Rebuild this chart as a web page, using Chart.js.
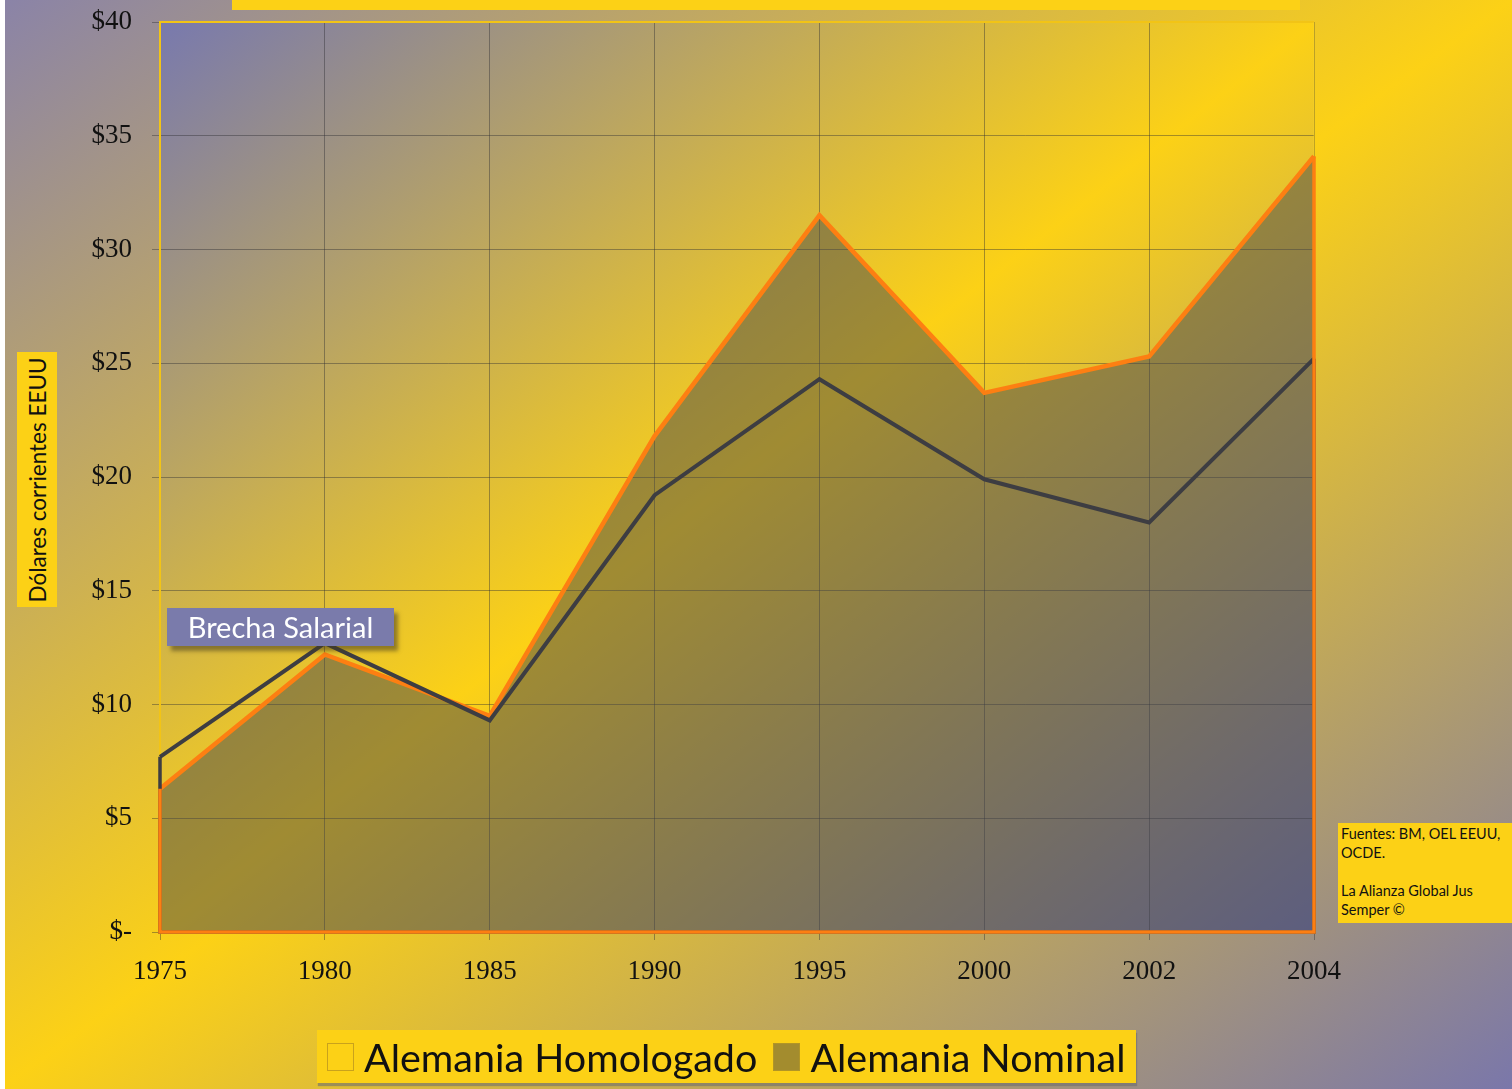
<!DOCTYPE html>
<html><head><meta charset="utf-8">
<script src="https://cdn.jsdelivr.net/npm/chart.js@4.4.1/dist/chart.umd.min.js"></script>
<style>
html,body{margin:0;padding:0;}
body{width:1512px;height:1089px;overflow:hidden;position:relative;
 background:linear-gradient(to bottom right, rgb(138,131,168) 0%, #fcd116 50%, rgb(122,119,170) 100%);
 font-family:Lato, "Open Sans", sans-serif;}
#edge{position:absolute;left:0;top:0;width:5px;height:1089px;background:#fff;}
#topbar{position:absolute;left:232px;top:0;width:1068px;height:10px;background:#fcd116;}
#c{position:absolute;left:0;top:0;}
#ytitle{position:absolute;left:17px;top:352px;width:40px;height:255px;background:#fcd116;}
#ytitle span{position:absolute;left:50%;top:50%;transform:translate(-50%,-50%) rotate(-90deg);white-space:nowrap;font-size:22.5px;color:#111;}
#gap{position:absolute;left:167px;top:608px;width:227px;height:38px;background:#7a7bab;color:#fff;font-size:29px;line-height:38px;text-align:center;box-shadow:4px 5px 4px rgba(70,60,30,0.55);}
#src{position:absolute;left:1338px;top:823px;width:174px;height:100px;background:#fcd116;font-size:14.5px;line-height:19px;padding:1px 0 0 3px;box-sizing:border-box;color:#111;}
#legend{position:absolute;left:317px;top:1030px;width:819px;height:53px;background:#fcd116;box-shadow:1px 3px 1px rgba(110,110,110,0.6);display:flex;align-items:center;box-sizing:border-box;padding-left:10px;font-size:39.5px;color:#111;white-space:nowrap;}
#legend .sw{width:27px;height:28px;box-sizing:border-box;margin-right:10px;flex:none;}
#legend .item{display:flex;align-items:center;margin-right:16px;}
</style></head>
<body>
<div id="edge"></div>
<div id="topbar"></div>
<canvas id="c" width="1512" height="1089"></canvas>
<div id="ytitle"><span>Dólares corrientes EEUU</span></div>
<div id="gap">Brecha Salarial</div>
<div id="src">Fuentes: BM, OEL EEUU,<br>OCDE.<br><br>La Alianza Global Jus<br>Semper ©</div>
<div id="legend"></div>
<script>
const years = ['1975','1980','1985','1990','1995','2000','2002','2004'];
const homologado = [7.7, 12.7, 9.3, 19.2, 24.3, 19.9, 18.0, 25.2];
const nominal = [6.3, 12.2, 9.5, 21.8, 31.5, 23.7, 25.3, 34.1];
const yTicks = [0, 5, 10, 15, 20, 25, 30, 35, 40];
const yTickLabels = ['$-', '$5', '$10', '$15', '$20', '$25', '$30', '$35', '$40'];
const seriesNames = ['Alemania Homologado', 'Alemania Nominal'];

const orange = '#fd7f12';
const dark = '#3d3d42';
const fillNominal = 'rgba(68,70,80,0.5)';
const gridColor = 'rgba(45,45,50,0.42)';

const plotBg = {
  id: 'plotBg',
  beforeDraw(chart) {
    const {ctx, chartArea: a} = chart;
    const w = a.right - a.left, h = a.bottom - a.top;
    const d = Math.hypot(w, h), L = 2 * w * h / d;
    const g = ctx.createLinearGradient(a.left, a.top, a.left + h / d * L, a.top + w / d * L);
    g.addColorStop(0, 'rgb(120,121,174)');
    g.addColorStop(0.5, '#fcd116');
    g.addColorStop(1, 'rgb(118,118,174)');
    ctx.save(); ctx.fillStyle = g; ctx.fillRect(a.left, a.top, w, h); ctx.restore();
  }
};
const frame = {
  id: 'frame',
  beforeDatasetsDraw(chart) {
    const {ctx, chartArea: a} = chart;
    ctx.save();
    ctx.strokeStyle = '#f2c416'; ctx.lineWidth = 2;
    ctx.beginPath();
    ctx.moveTo(a.left, a.bottom); ctx.lineTo(a.left, a.top); ctx.lineTo(a.right, a.top);
    ctx.stroke();
    ctx.strokeStyle = 'rgba(250,215,40,0.6)'; ctx.lineWidth = 1;
    ctx.beginPath(); ctx.moveTo(a.right, a.top); ctx.lineTo(a.right, a.bottom); ctx.stroke();
    ctx.restore();
  }
};
const edges = {
  id: 'edges',
  afterDatasetsDraw(chart) {
    const ctx = chart.ctx;
    const y0 = chart.scales.y.getPixelForValue(0);
    [0, 1].forEach(i => {
      const meta = chart.getDatasetMeta(i);
      const ds = chart.data.datasets[i];
      const p = meta.data, f = p[0], l = p[p.length - 1];
      ctx.save();
      ctx.strokeStyle = ds.borderColor; ctx.lineWidth = ds.edgeWidth;
      ctx.lineJoin = 'miter';
      ctx.beginPath();
      ctx.moveTo(f.x, f.y); ctx.lineTo(f.x, y0); ctx.lineTo(l.x, y0); ctx.lineTo(l.x, l.y);
      ctx.stroke();
      ctx.restore();
    });
  }
};

const chart = new Chart(document.getElementById('c'), {
  type: 'line',
  data: {
    labels: years,
    datasets: [
      {label: seriesNames[0], data: homologado, borderColor: dark, borderWidth: 4, edgeWidth: 3.5,
       fill: false, pointRadius: 0, tension: 0, legendColor: 'transparent', legendBorder: '#c9a21c'},
      {label: seriesNames[1], data: nominal, borderColor: orange, borderWidth: 4.5, edgeWidth: 3.5,
       backgroundColor: fillNominal, fill: 'origin', pointRadius: 0, tension: 0,
       legendColor: '#a38c2e', legendBorder: '#b19526'}
    ]
  },
  options: {
    responsive: false, animation: false, devicePixelRatio: 1,
    layout: {padding: {left: 0, right: 198, top: 22, bottom: 0}},
    plugins: {legend: {display: false}, tooltip: {enabled: false}},
    scales: {
      x: {
        type: 'category', offset: false,
        grid: {color: gridColor, lineWidth: 1, tickLength: 8, offset: false},
        border: {display: false},
        ticks: {font: {family: 'Liberation Serif', size: 27}, color: '#111', padding: 16, maxRotation: 0, autoSkip: false},
        afterFit(s) { s.height = 157; s.paddingLeft = 0; s.paddingRight = 0; }
      },
      y: {
        min: 0, max: 40,
        afterBuildTicks(s) { s.ticks = yTicks.map(v => ({value: v})); },
        ticks: {callback: v => yTickLabels[yTicks.indexOf(v)], font: {family: 'Liberation Serif', size: 27}, color: '#111', padding: 20},
        grid: {color: gridColor, lineWidth: 1, tickLength: 8},
        border: {display: false},
        afterFit(s) { s.width = 160; s.paddingTop = 0; s.paddingBottom = 0; }
      }
    }
  },
  plugins: [plotBg, frame, edges]
});

// legend built from the chart's datasets
const lg = document.getElementById('legend');
chart.data.datasets.forEach(ds => {
  const it = document.createElement('div'); it.className = 'item';
  const sw = document.createElement('div'); sw.className = 'sw';
  sw.style.background = ds.legendColor; sw.style.border = '1px solid ' + ds.legendBorder;
  const t = document.createElement('span'); t.textContent = ds.label;
  it.appendChild(sw); it.appendChild(t); lg.appendChild(it);
});
</script>
</body></html>
